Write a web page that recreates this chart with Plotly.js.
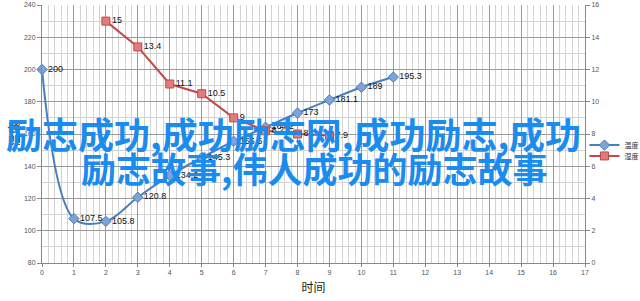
<!DOCTYPE html>
<html><head><meta charset="utf-8">
<script src="https://cdn.plot.ly/plotly-3.0.1.min.js"></script>
<style>html,body{margin:0;padding:0;background:#fff}#c{width:640px;height:301px}</style>
</head><body><div id="c"></div>
<script>
const tempX = [0,1,2,3,4,5,6,7,8,9,10,11];
const tempY = [200,107.5,105.8,120.8,134.2,145.3,155.5,164.2,173,181.1,189,195.3];
const humX = [2,3,4,5,6,7,8,9];
const humY = [15,13.4,11.1,10.5,9,8.2,8,7.9];
const tempName = '温度';
const humName = '湿度';
const xTitle = '时间';
const yTitle = '温度';
const wmLine1 = '励志成功,成功励志网,成功励志,成功';
const wmLine2 = '励志故事,伟人成功的励志故事';

const tickFont = {family:'Liberation Sans, Arial', size:7, color:'#555'};
const lblFont = {family:'Liberation Sans, Arial', size:9, color:'#111'};
const legFont = {family:'Noto Sans CJK SC', size:7, color:'#333'};

const traces = [
 {x:tempX, y:tempY, name:tempName, type:'scatter', mode:'lines+markers+text', legend:'legend',
  text:tempY.map(String), textposition:'middle right', textfont:lblFont,
  line:{color:'#4a7ebb', width:2, shape:'spline', smoothing:1},
  marker:{symbol:'diamond', size:8, color:'#7ea3d6', line:{color:'#4a7ebb', width:1}},
  cliponaxis:false},
 {x:humX, y:humY, name:humName, type:'scatter', mode:'lines+markers+text', yaxis:'y2', legend:'legend2',
  text:humY.map(String), textposition:'middle right', textfont:lblFont,
  line:{color:'#be4b48', width:2},
  marker:{symbol:'square', size:8, color:'#e27c7a', line:{color:'#be4b48', width:1}},
  cliponaxis:false}
];

const layout = {
 width:640, height:301,
 margin:{l:42, r:55, t:5, b:38, autoexpand:false},
 paper_bgcolor:'#fff', plot_bgcolor:'#fff',
 showlegend:true,
 legend:{x:0.999, y:0.457, xanchor:'left', yanchor:'middle', font:legFont,
   bgcolor:'rgba(0,0,0,0)', itemwidth:30},
 legend2:{x:0.999, y:0.415, xanchor:'left', yanchor:'middle', font:legFont,
   bgcolor:'rgba(0,0,0,0)', itemwidth:30},
 xaxis:{range:[0,17], dtick:1, tick0:0, showgrid:true, gridcolor:'#9a9a9a', gridwidth:1,
   minor:{dtick:0.2, showgrid:true, gridcolor:'#d2d2d2', gridwidth:1},
   showline:true, linecolor:'#888', ticks:'outside', ticklen:3, tickcolor:'#888',
   tickfont:tickFont, zeroline:false, automargin:false,
   title:{text:xTitle, font:{family:'Noto Sans CJK SC', size:12, color:'#222'}, standoff:8}},
 yaxis:{range:[80,240], dtick:20, showgrid:true, gridcolor:'#9a9a9a', gridwidth:1,
   minor:{dtick:10, showgrid:true, gridcolor:'#d2d2d2', gridwidth:1},
   showline:true, linecolor:'#888', ticks:'outside', ticklen:4, tickcolor:'#888',
   tickfont:tickFont, zeroline:false, automargin:false,
   title:{text:yTitle, font:{family:'Noto Sans CJK SC', size:12, color:'#222'}, standoff:1}},
 yaxis2:{range:[0,16], dtick:2, overlaying:'y', side:'right', showgrid:false,
   showline:true, linecolor:'#888', ticks:'outside', ticklen:4, tickcolor:'#888',
   tickfont:tickFont, zeroline:false, automargin:false},
 annotations:[
  {xref:'paper', yref:'paper', x:0.464, y:0.505, text:wmLine1, showarrow:false,
   font:{family:'Noto Sans CJK SC', size:36, weight:'bold', color:'#1a8cf0'}, xanchor:'center', yanchor:'middle'},
  {xref:'paper', yref:'paper', x:0.501, y:0.37, text:wmLine2, showarrow:false,
   font:{family:'Noto Sans CJK SC', size:35, weight:'bold', color:'#1a8cf0'}, xanchor:'center', yanchor:'middle'}
 ]
};
Plotly.newPlot('c', traces, layout, {displayModeBar:false, staticPlot:true});
</script></body></html>
